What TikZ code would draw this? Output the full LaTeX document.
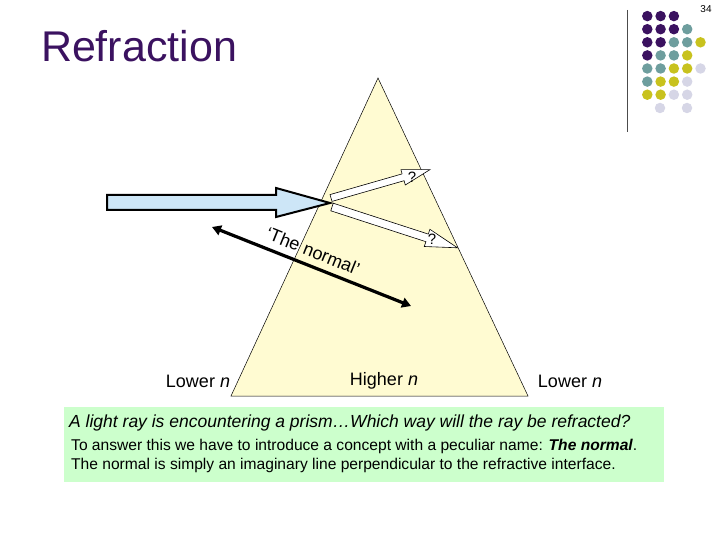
\documentclass[tikz,border=0pt]{standalone}
\usepackage{fontspec}
\setmainfont{Liberation Sans}
\usetikzlibrary{arrows.meta}
\definecolor{cP}{HTML}{3B1260}
\definecolor{cT}{HTML}{6E9E9E}
\definecolor{cY}{HTML}{C8C21E}
\definecolor{cL}{HTML}{D6D6E6}
\definecolor{prism}{HTML}{FFFBD2}
\definecolor{rayblue}{HTML}{CDE6F7}
\definecolor{boxg}{HTML}{CCFFCC}
\tikzset{dot/.style={circle,inner sep=0pt,minimum size=10.5pt},
 lbl/.style={font=\fontsize{18}{20}\selectfont},
 bigarrow/.style={draw=black,line join=miter}}
\begin{document}
\begin{tikzpicture}[x=1pt,y=-1pt]
\useasboundingbox (0,0) rectangle (720,540);
\node[font=\fontsize{10}{11}\selectfont] (pg) at (706,9) {34};
\node[font=\fontsize{43}{46}\selectfont,text=cP] (title) at (139,46) {Refraction};
\draw[black!70] (627,10) -- (627,132);
\foreach \r/\row in {1/{P,P,P},2/{P,P,P,T},3/{P,P,T,T,Y},4/{P,T,T,Y},5/{T,T,Y,Y,L},6/{T,Y,Y,L},7/{Y,Y,L,L}}{
 \foreach \c [count=\i] in \row { \node[dot,fill=c\c] (d\r\i) at ({634+13.3*\i},{3+13.1*\r}) {}; } }
\node[dot,fill=cL] (d82) at (660,108) {};
\node[dot,fill=cL] (d84) at (687,108) {};
% prism
\draw[fill=prism,line width=0.5pt] (378,78) coordinate (apex) -- (231,396) coordinate (bl) -- (528,396) coordinate (br) -- cycle;
% refracted candidates
\draw[bigarrow,fill=white,line width=0.6pt] (330.0,194.6) -- (402.1,173.9) -- (400.9,169.6) -- (430,169.6) coordinate (t1) -- (405.3,185.0) -- (404.1,180.7) -- (332.0,201.4) -- cycle;
\node[font=\fontsize{15}{16}\selectfont] (q1) at (412,177) {?};
\draw[bigarrow,fill=white,line width=0.6pt] (333.2,203.2) -- (428.3,234.1) -- (429.9,229.3) -- (457.5,247.8) coordinate (t2) -- (424.3,246.5) -- (425.9,241.7) -- (330.8,210.8) -- cycle;
\node[font=\fontsize{15}{16}\selectfont] (q2) at (432,239) {?};
% incident ray
\draw[bigarrow,fill=rayblue,line width=2pt] (107,195) -- (276,195) -- (276,188) -- (330,203) coordinate (hit) -- (276,217) -- (276,210) -- (107,210) -- cycle;
% normal
\coordinate (n1) at (212,227);
\coordinate (n2) at (411,306);
\draw[line width=3.2pt,{Triangle[length=9pt,width=10pt]}-{Triangle[length=9pt,width=10pt]}] (n1) -- (n2);
\node[lbl,rotate=-22,anchor=center,inner sep=0pt] (nl) at (313,251) {‘The normal’};
\node[lbl] (l1) at (198,381) {Lower \textit{n}};
\node[lbl] (l2) at (384,381) {Higher \textit{n}};
\node[lbl] (l3) at (570,381) {Lower \textit{n}};
\node[fill=boxg,minimum width=600pt,minimum height=75pt,anchor=north west] (box) at (64,407) {};
\node[anchor=north west,font=\itshape\fontsize{17.5}{19}\selectfont,inner sep=0pt] (b1) at (69,415) {A light ray is encountering a prism…Which way will the ray be refracted?};
\node[anchor=north west,font=\fontsize{15.6}{19}\selectfont,align=left,inner sep=0pt] (b2) at (71,439) {To answer this we have to introduce a concept with a peculiar name: \textit{\textbf{The normal}}.\\The normal is simply an imaginary line perpendicular to the refractive interface.};
\end{tikzpicture}
\end{document}
